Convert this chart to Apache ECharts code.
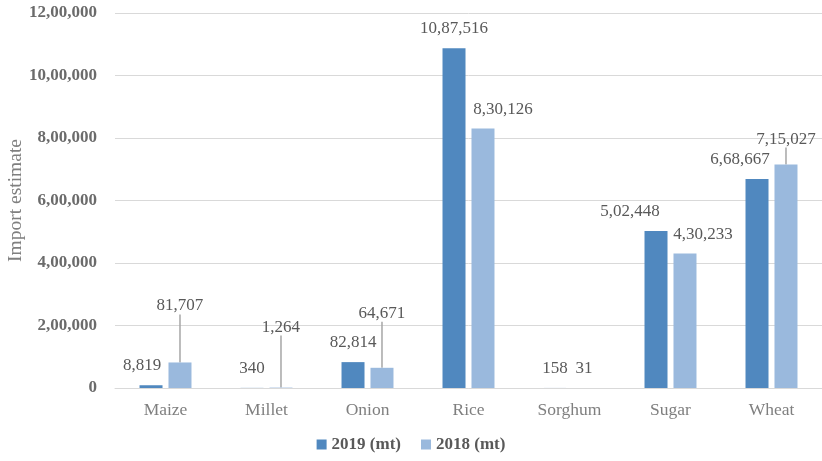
<!DOCTYPE html>
<html>
<head>
<meta charset="utf-8">
<script src="https://cdn.jsdelivr.net/npm/echarts@6/dist/echarts.min.js"></script>
<style>
  html, body { margin: 0; padding: 0; background: #fff; }
  #chart { width: 822px; height: 461px; }
</style>
</head>
<body>
<div id="chart"></div>
<script>
// data
var categories = ['Maize', 'Millet', 'Onion', 'Rice', 'Sorghum', 'Sugar', 'Wheat'];
var imports2019 = [8819, 340, 82814, 1087516, 158, 502448, 668667];
var imports2018 = [81707, 1264, 64671, 830126, 31, 430233, 715027];
var seriesNames = ['2019 (mt)', '2018 (mt)'];
var yMax = 1200000;
var yStep = 200000;

// label nudges (px), [dx, dy, leader line?]
var nudge2019 = [[-9, 0, 0], [0, 0, 0], [0, 0, 0], [0, 0, 0], [0, 0, 0], [-26, 0, 0], [-17, 0, 0]];
var nudge2018 = [[0, -37, 1], [0, -41, 1], [0, -35, 1], [20, 0, 0], [0, 0, 0], [18, 0, 0], [0, -6, 1]];

var FONT = '"Liberation Serif", "DejaVu Serif", serif';

// Indian digit grouping: 12,00,000
function inr(v) {
  var s = String(Math.round(v));
  if (s.length <= 3) return s;
  var last3 = s.slice(-3);
  var rest = s.slice(0, -3).replace(/\B(?=(\d{2})+(?!\d))/g, ',');
  return rest + ',' + last3;
}

function buildData(values, nudges) {
  return values.map(function (v, i) {
    return {
      value: v,
      labelLine: { show: !!nudges[i][2] }
    };
  });
}

var labelStyle = {
  show: true,
  position: 'top',
  distance: 11,
  fontFamily: FONT,
  fontSize: 17,
  color: '#595959',
  formatter: function (p) { return inr(p.value); }
};

var chart = echarts.init(document.getElementById('chart'));
chart.setOption({
  animation: false,
  color: ['#5088bf', '#9ab9dd'],
  grid: { left: 115, right: 0, top: 13, bottom: 73, containLabel: false, outerBoundsMode: 'none' },
  legend: {
    bottom: 3,
    left: 'center',
    itemWidth: 10,
    itemHeight: 10,
    itemGap: 20,
    icon: 'rect',
    textStyle: { fontFamily: FONT, fontSize: 17, fontWeight: 'bold', color: '#595959' },
    data: seriesNames
  },
  xAxis: {
    type: 'category',
    data: categories,
    axisLine: { show: true, lineStyle: { color: '#d9d9d9', width: 1 } },
    axisTick: { show: false },
    axisLabel: { fontFamily: FONT, fontSize: 17.5, color: '#7f7f7f', margin: 13 }
  },
  yAxis: {
    type: 'value',
    min: 0,
    max: yMax,
    interval: yStep,
    name: 'Import estimate',
    nameLocation: 'middle',
    nameGap: 89,
    nameMoveOverlap: false,
    nameTextStyle: { fontFamily: FONT, fontSize: 19.5, color: '#7f7f7f' },
    axisLine: { show: false },
    axisTick: { show: false },
    splitLine: { lineStyle: { color: '#d9d9d9', width: 1 } },
    axisLabel: {
      fontFamily: FONT, fontSize: 17, fontWeight: 'bold', color: '#6b6b6b', margin: 18,
      formatter: inr
    }
  },
  series: [
    {
      name: seriesNames[0],
      type: 'bar',
      barWidth: 23,
      barGap: '26%',
      data: buildData(imports2019, nudge2019),
      label: labelStyle,
      labelLayout: function (p) {
        var n = nudge2019[p.dataIndex];
        return { dx: n[0], dy: n[1] };
      }
    },
    {
      name: seriesNames[1],
      type: 'bar',
      barWidth: 23,
      data: buildData(imports2018, nudge2018),
      label: labelStyle,
      labelLine: { show: false, lineStyle: { color: '#a6a6a6', width: 1.5 } },
      labelLayout: function (p) {
        var n = nudge2018[p.dataIndex];
        return { dx: n[0], dy: n[1] };
      }
    }
  ]
});
</script>
</body>
</html>
